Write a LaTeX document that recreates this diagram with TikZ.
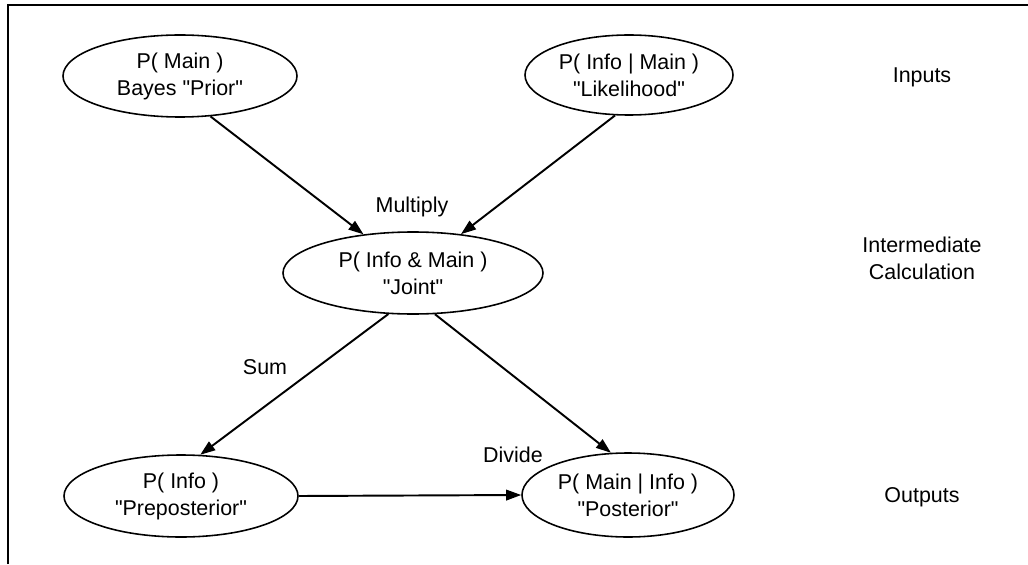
\documentclass[tikz,border=0pt]{standalone}
\usepackage{fontspec}
\setmainfont{Liberation Sans}
\usepackage{tikz}
\usetikzlibrary{arrows.meta,shapes.geometric}
\newcommand{\quoted}[1]{\textquotedbl#1\textquotedbl}
\tikzset{
    prob/.style={ellipse, draw, line width=0.9pt, inner sep=0mm, align=center,
        font=\fontsize{12.2}{15.4}\selectfont},
    txt/.style={draw=none, align=center, font=\fontsize{12.2}{15.4}\selectfont},
    flow/.style={line width=1.1pt, -{Triangle[length=0.3cm, width=0.21cm]}}
}

\begin{document}
\begin{tikzpicture}
    \useasboundingbox (0cm, 0cm) rectangle (20.56cm, 11.28cm);
    \draw[line width=1.3pt] (0.16cm, 0cm) -- (0.16cm, 11.18cm) -- (20.56cm, 11.18cm);

    \node (prior) at (3.60cm, 9.76cm) [prob, minimum width=4.68cm, minimum height=1.64cm] {P( Main )\\Bayes \quoted{Prior}};
    \node (like) at (12.58cm, 9.78cm) [prob, minimum width=4.16cm, minimum height=1.60cm] {P( Info | Main )\\\quoted{Likelihood}};
    \node (joint) at (8.26cm, 5.82cm) [prob, minimum width=5.20cm, minimum height=1.64cm] {P( Info \& Main )\\\quoted{Joint}};
    \node (prepost) at (3.62cm, 1.36cm) [prob, minimum width=4.68cm, minimum height=1.64cm] {P( Info )\\\quoted{Preposterior}};
    \node (post) at (12.56cm, 1.38cm) [prob, minimum width=4.24cm, minimum height=1.68cm] {P( Main | Info )\\\quoted{Posterior}};

    \node (inputs) at (18.44cm, 9.74cm) [txt] {Inputs};
    \node (inter) at (18.44cm, 6.11cm) [txt] {Intermediate\\Calculation};
    \node (outputs) at (18.44cm, 1.34cm) [txt] {Outputs};

    \node (mult) at (8.24cm, 7.14cm) [txt] {Multiply};
    \node (sum) at (5.30cm, 3.94cm) [txt] {Sum};
    \node (div) at (10.26cm, 2.18cm) [txt] {Divide};

    \draw[flow] (prior.-53) -- (joint.142);
    \draw[flow] (like.-109) -- (joint.39);
    \draw[flow] (joint.-121) -- (prepost.65);
    \draw[flow] (joint.-62) -- (post.112);
    \draw[flow] (prepost.east) -- (post.west);
\end{tikzpicture}
\end{document}
